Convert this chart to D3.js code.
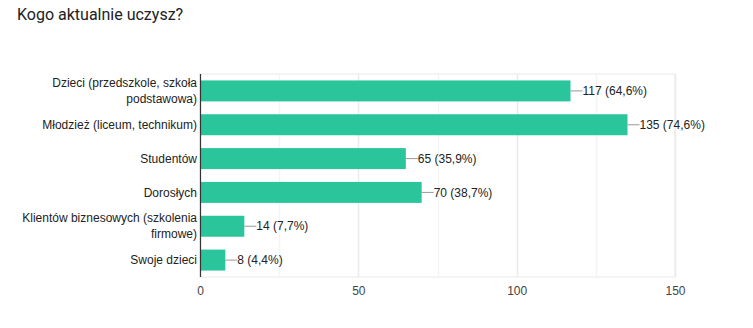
<!DOCTYPE html>
<html>
<head>
<meta charset="utf-8">
<script src="https://cdn.jsdelivr.net/npm/d3@7"></script>
<style>
  body { margin: 0; background: #fff; }
  svg { display: block; }
</style>
</head>
<body>
<svg id="chart" width="753" height="328"></svg>
<script>
// Survey answers: who the respondent currently teaches
const categories = [
  ["Dzieci (przedszkole, szkoła", "podstawowa)"],
  ["Młodzież (liceum, technikum)"],
  ["Studentów"],
  ["Dorosłych"],
  ["Klientów biznesowych (szkolenia", "firmowe)"],
  ["Swoje dzieci"]
];
const counts = [117, 135, 65, 70, 14, 8];
const percents = ["64,6%", "74,6%", "35,9%", "38,7%", "7,7%", "4,4%"];
const tickValues = [0, 50, 100, 150];
const gridValues = [25, 50, 75, 100, 125, 150];

const svg = d3.select("#chart");
const font = "Arial, 'Liberation Sans', sans-serif";

const margin = { left: 200, right: 78, top: 74, bottom: 51 };
const W = 753, H = 328;
const innerW = W - margin.left - margin.right;
const innerH = H - margin.top - margin.bottom;

svg.append("text")
  .attr("x", 17).attr("y", 20)
  .attr("font-family", "Roboto, Arial, sans-serif")
  .attr("font-size", 16)
  .attr("fill", "#202124")
  .text("Kogo aktualnie uczysz?");

const g = svg.append("g").attr("transform", `translate(${margin.left},${margin.top})`);

const x = d3.scaleLinear().domain([0, 150]).range([0, innerW]);
const y = d3.scaleBand().domain(d3.range(counts.length)).range([0, innerH]).paddingInner(0.38).paddingOuter(0.19);

// plot frame and gridlines
g.append("rect")
  .attr("x", 0).attr("y", 0).attr("width", innerW).attr("height", innerH)
  .attr("fill", "none").attr("stroke", "#f1f1f1").attr("stroke-width", 1.5);

g.selectAll(".grid").data(gridValues).join("line")
  .attr("x1", d => Math.round(x(d)) + 0.5).attr("x2", d => Math.round(x(d)) + 0.5)
  .attr("y1", 0).attr("y2", innerH)
  .attr("stroke", d => d % 50 === 0 ? "#ebebeb" : "#f4f4f4")
  .attr("stroke-width", 1.5);

// bars
g.selectAll(".bar").data(counts).join("rect")
  .attr("x", 0)
  .attr("y", (d, i) => y(i))
  .attr("width", d => x(d))
  .attr("height", y.bandwidth())
  .attr("fill", "#2bc59b");

// leader lines and value labels
g.selectAll(".leader").data(counts).join("line")
  .attr("x1", d => x(d)).attr("x2", d => x(d) + 12)
  .attr("y1", (d, i) => y(i) + y.bandwidth() / 2)
  .attr("y2", (d, i) => y(i) + y.bandwidth() / 2)
  .attr("stroke", "#999").attr("stroke-width", 1);

g.selectAll(".val").data(counts).join("text")
  .attr("x", d => x(d) + 12)
  .attr("y", (d, i) => y(i) + y.bandwidth() / 2)
  .attr("dy", "0.35em")
  .attr("font-family", font).attr("font-size", 12)
  .attr("fill", "#222")
  .text((d, i) => `${d} (${percents[i]})`);

// left axis line
g.append("line")
  .attr("x1", 0.5).attr("x2", 0.5).attr("y1", 0).attr("y2", innerH)
  .attr("stroke", "#333").attr("stroke-width", 1.2);

// category labels (wrapped lines)
categories.forEach((lines, i) => {
  const cy = y(i) + y.bandwidth() / 2;
  const lh = 16;
  const t = g.append("text")
    .attr("text-anchor", "end")
    .attr("font-family", font).attr("font-size", 12)
    .attr("fill", "#222");
  lines.forEach((ln, j) => {
    t.append("tspan")
      .attr("x", -3)
      .attr("y", cy + (j - (lines.length - 1) / 2) * lh)
      .attr("dy", "0.35em")
      .text(ln);
  });
});

// x axis tick labels
const xAxis = d3.axisBottom(x).tickValues(tickValues).tickSize(0).tickPadding(9);
const ax = g.append("g").attr("transform", `translate(0,${innerH})`).call(xAxis);
ax.select(".domain").remove();
ax.selectAll("text")
  .attr("font-family", font).attr("font-size", 12)
  .attr("fill", "#444");
</script>
</body>
</html>
